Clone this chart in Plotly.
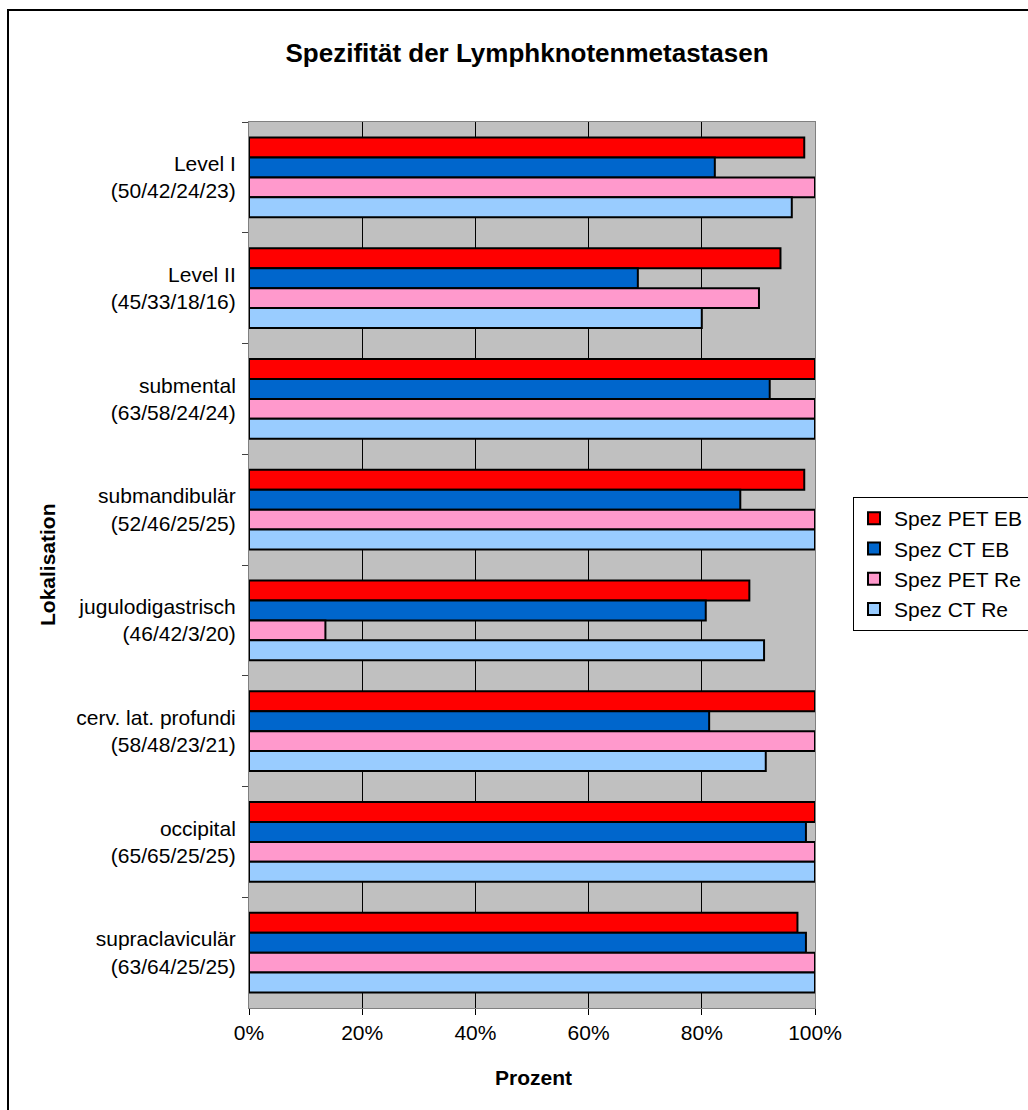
import plotly.graph_objects as go

# Localisations (patients: PET EB / CT EB / PET Re / CT Re)
categories = [
    "Level I<br>(50/42/24/23)",
    "Level II<br>(45/33/18/16)",
    "submental<br>(63/58/24/24)",
    "submandibulär<br>(52/46/25/25)",
    "jugulodigastrisch<br>(46/42/3/20)",
    "cerv. lat. profundi<br>(58/48/23/21)",
    "occipital<br>(65/65/25/25)",
    "supraclaviculär<br>(63/64/25/25)",
]

# Specificity in percent
spez_pet_eb = [98.1, 93.9, 100, 98.1, 88.4, 100, 100, 96.9]
spez_ct_eb = [82.3, 68.7, 92.0, 86.8, 80.7, 81.3, 98.4, 98.4]
spez_pet_re = [100, 90.1, 100, 100, 13.5, 100, 100, 100]
spez_ct_re = [95.9, 80.0, 100, 100, 91.0, 91.3, 100, 100]

x_ticks = [0, 20, 40, 60, 80, 100]
x_tick_labels = ["0%", "20%", "40%", "60%", "80%", "100%"]

series = [
    ("Spez PET EB", spez_pet_eb, "#FF0000"),
    ("Spez CT EB", spez_ct_eb, "#0066CC"),
    ("Spez PET Re", spez_pet_re, "#FF99CC"),
    ("Spez CT Re", spez_ct_re, "#99CCFF"),
]

W, H = 1028, 1110
L, R, T, B = 249, 213, 122, 102
PW, PH = W - L - R, H - T - B
FONT = "Liberation Sans, Arial, sans-serif"


def px_x(px):
    return (px - L) / PW


def px_y(py):
    return (H - B - py) / PH


fig = go.Figure()
for i, (name, vals, color) in enumerate(series):
    fig.add_trace(go.Bar(
        y=categories, x=vals, name=name, orientation="h",
        marker=dict(color=color, line=dict(color="black", width=2)),
        legendgroup=f"g{i}",
    ))

fig.update_layout(
    width=W, height=H,
    margin=dict(l=L, r=R, t=T, b=B, autoexpand=False),
    paper_bgcolor="white",
    plot_bgcolor="#C0C0C0",
    barmode="group",
    bargap=0.28,
    bargroupgap=0,
    font=dict(family=FONT, size=21, color="black"),
    title=dict(
        text="<b>Spezifität der Lymphknotenmetastasen</b>",
        font=dict(family=FONT, size=26, color="black"),
        x=527 / W, xref="container", xanchor="center",
        y=1 - 53 / H, yref="container", yanchor="middle",
    ),
    legend=dict(
        x=853 / W, y=1 - 497 / H, xref="container", yref="container",
        xanchor="left", yanchor="top",
        bordercolor="black", borderwidth=1, bgcolor="white",
        font=dict(family=FONT, size=21),
        tracegroupgap=10,
        traceorder="normal",
    ),
    xaxis=dict(
        range=[0, 100],
        tickvals=x_ticks, ticktext=x_tick_labels,
        showgrid=True, gridcolor="black", gridwidth=1,
        ticks="outside", ticklen=6, tickcolor="black",
        showline=True, linecolor="#808080", linewidth=1, mirror=True,
        zeroline=False,
        tickfont=dict(family=FONT, size=21),
    ),
    yaxis=dict(
        autorange="reversed",
        ticks="outside", ticklen=6, tickcolor="#404040",
        tickson="boundaries",
        showline=True, linecolor="#808080", linewidth=1, mirror=True,
        showgrid=False,
        tickfont=dict(family=FONT, size=21),
        ticklabelstandoff=8,
    ),
    annotations=[
        dict(text="<b>Lokalisation</b>", textangle=-90,
             x=px_x(47), y=px_y(565), xref="paper", yref="paper",
             showarrow=False, font=dict(family=FONT, size=21),
             xanchor="center", yanchor="middle"),
        dict(text="<b>Prozent</b>",
             x=px_x(533), y=px_y(1077), xref="paper", yref="paper",
             showarrow=False, font=dict(family=FONT, size=21),
             xanchor="center", yanchor="middle"),
    ],
    shapes=[
        dict(type="rect", xref="paper", yref="paper",
             x0=px_x(8), x1=px_x(1040), y0=px_y(1125), y1=px_y(10),
             line=dict(color="black", width=2), fillcolor="rgba(0,0,0,0)",
             layer="below"),
    ],
)

fig.write_html("out.html")
